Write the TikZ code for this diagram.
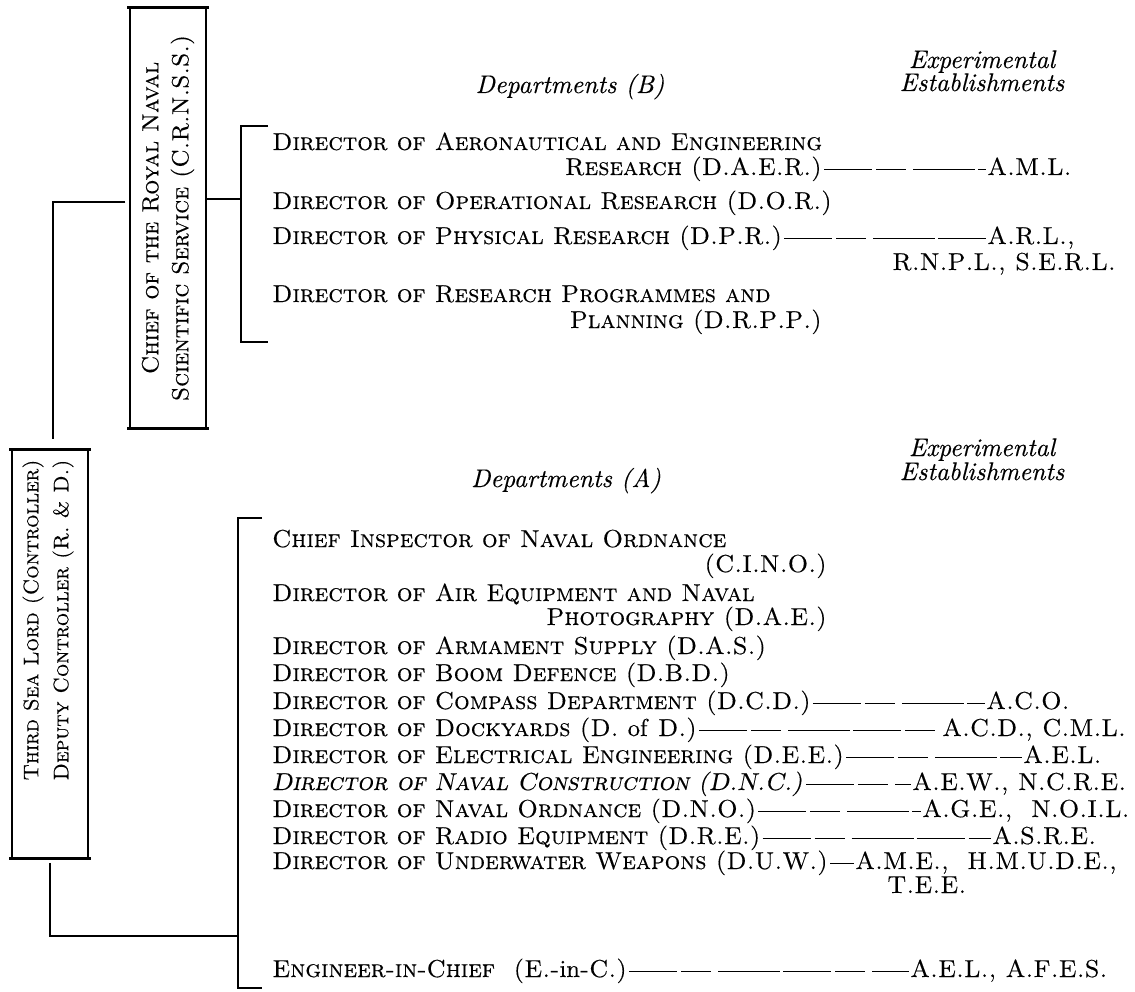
\documentclass[tikz,border=0pt]{standalone}
\usepackage{fontspec}
\setmainfont{lmroman10-regular.otf}[
  SmallCapsFont=lmromancaps10-regular.otf,
  ItalicFont=lmroman10-italic.otf,
  BoldFont=lmroman10-bold.otf,
  FakeBold=0.35]
\usetikzlibrary{calc}
\newcommand\deptfont{\fontsize{24.5}{28}\selectfont\scshape}
\newcommand\hdfont{\fontsize{25.5}{24}\selectfont\itshape}
\newcommand\crnssfont{\fontsize{23.5}{30}\selectfont\scshape}
\newcommand\tslfont{\fontsize{21}{30}\selectfont\scshape}
\begin{document}
\begin{tikzpicture}[x=1pt,y=-1pt,
  sc/.style={font=\deptfont, inner sep=0pt, text height=12pt, text depth=0pt},
  hd/.style={font=\hdfont, inner sep=0pt},
  box/.style={draw, line width=1.5pt, inner sep=0pt},
  edge/.style={line width=2.6pt},
  link/.style={line width=1.5pt},
  leader/.style={line width=0.9pt, shorten <=2pt, shorten >=1pt,
    dash pattern=on 48pt off 4pt on 30pt off 7pt on 62pt off 3pt}]
\useasboundingbox (0,0) rectangle (1135,992);

% ---- boxes on the left
\node[box, minimum width=76pt, minimum height=420pt] (crnss) at (168,218) {};
\draw[edge] ([xshift=-2pt]crnss.north west) -- ([xshift=2pt]crnss.north east);
\draw[edge] ([xshift=-2pt]crnss.south west) -- ([xshift=2pt]crnss.south east);
\node[font=\crnssfont, rotate=90, align=center, inner sep=0pt] (crnsst) at (crnss.center) {Chief of the Royal Naval\\Scientific Service (C.R.N.S.S.)};
\node[box, minimum width=76pt, minimum height=408pt] (tsl) at (50,654) {};
\draw[edge] ([xshift=-2pt]tsl.north west) -- ([xshift=2pt]tsl.north east);
\draw[edge] ([xshift=-2pt]tsl.south west) -- ([xshift=2pt]tsl.south east);
\node[font=\tslfont, rotate=90, align=center, inner sep=0pt] (tslt) at (48,620) {Third Sea Lord (Controller)\\Deputy Controller (R. \& D.)};

% ---- headings
\node[hd, anchor=base] (expB1) at (982,68) {Experimental};
\node[hd, anchor=base] (expB2) at (982,91) {Establishments};
\node[hd, anchor=base] (depB) at (570,93) {Departments (B)};
\node[hd, anchor=base] (expA1) at (982,456) {Experimental};
\node[hd, anchor=base] (expA2) at (982,480) {Establishments};
\node[hd, anchor=base] (depA) at (566,487) {Departments (A)};

% ---- departments (B)
\node[sc, anchor=base west] (daer1) at (272,150) {Director of Aeronautical and Engineering};
\node[sc, anchor=base east] (daer) at (822,175) {Research (D.A.E.R.)};
\node[sc, anchor=base west] (aml) at (987,175) {A.M.L.};
\node[sc, anchor=base west] (dor) at (272,209) {Director of Operational Research (D.O.R.)};
\node[sc, anchor=base west] (dpr) at (272,244) {Director of Physical Research (D.P.R.)};
\node[sc, anchor=base west] (arl) at (987,244) {A.R.L.,};
\node[sc, anchor=base east] (rnpl) at (1116,270) {R.N.P.L., S.E.R.L.};
\node[sc, anchor=base west] (drpp1) at (272,302) {Director of Research Programmes and};
\node[sc, anchor=base east] (drpp) at (822,328) {Planning (D.R.P.P.)};

% ---- departments (A)
\node[sc, anchor=base west] (cino1) at (272,547) {Chief Inspector of Naval Ordnance};
\node[sc, anchor=base east] (cino) at (827,572) {(C.I.N.O.)};
\node[sc, anchor=base west] (dae1) at (272,601) {Director of Air Equipment and Naval};
\node[sc, anchor=base east] (dae) at (827,625) {Photography (D.A.E.)};
\node[sc, anchor=base west] (das) at (272,654) {Director of Armament Supply (D.A.S.)};
\node[sc, anchor=base west] (dbd) at (272,681) {Director of Boom Defence (D.B.D.)};
\node[sc, anchor=base west] (dcd) at (272,709) {Director of Compass Department (D.C.D.)};
\node[sc, anchor=base west] (aco) at (986,709) {A.C.O.};
\node[sc, anchor=base west] (dod) at (272,736) {Director of Dockyards (D. \textup{of} D.)};
\node[sc, anchor=base west] (acd) at (942,736) {A.C.D., C.M.L.};
\node[sc, anchor=base west] (dee) at (272,763) {Director of Electrical Engineering (D.E.E.)};
\node[sc, anchor=base west] (ael) at (1023,763) {A.E.L.};
\begin{scope}[shift={(272,790)}, xslant=0.2]
\node[sc, anchor=base west, transform shape] (dnc) at (0,0) {Director of Naval Construction (D.N.C.)};
\end{scope}
\node[sc, anchor=base west] (aew) at (912,790) {A.E.W., N.C.R.E.};
\node[sc, anchor=base west] (dno) at (272,817) {Director of Naval Ordnance (D.N.O.)};
\node[sc, anchor=base west] (age) at (922,817) {A.G.E.,\ \ N.O.I.L.};
\node[sc, anchor=base west] (dre) at (272,844) {Director of Radio Equipment (D.R.E.)};
\node[sc, anchor=base west] (asre) at (992,844) {A.S.R.E.};
\node[sc, anchor=base west] (duw) at (272,869) {Director of Underwater Weapons (D.U.W.)};
\node[sc, anchor=base west] (ame) at (855,869) {A.M.E.,\ \ H.M.U.D.E.,};
\node[sc, anchor=base west] (tee) at (887,893) {T.E.E.};
\node[sc, anchor=base west] (einc) at (272,977) {Engineer-in-Chief\ \ (E.-\textup{in}-C.)};
\node[sc, anchor=base west] (afes) at (910,977) {A.E.L., A.F.E.S.};

% ---- brackets
\coordinate (bBt) at (241,126);
\coordinate (bBb) at (241,342);
\draw[link] ($(bBt)+(27,0)$) -- (bBt) -- (bBb) -- ($(bBb)+(27,0)$);
\coordinate (bAt) at (238,518);
\coordinate (bAb) at (238,988);
\draw[link] ($(bAt)+(24,0)$) -- (bAt) -- (bAb) -- ($(bAb)+(24,0)$);

% ---- connectors
\coordinate (j1) at (53,202);
\draw[link, shorten <=4pt, shorten >=10pt] (crnss.west |- j1) -- (j1) -- (j1 |- tsl.north);
\coordinate (j0) at (0,199);
\draw[link] (crnss.east |- j0) -- (bBt |- j0);
\coordinate (j2) at (50,936);
\draw[link, shorten <=4pt] (tsl.south -| j2) -- (j2) -- (j2 -| bAt);

% ---- leaders
\draw[leader] (daer.east) -- (aml.west);
\draw[leader] (dpr.east) -- (arl.west);
\draw[leader] (dcd.east) -- (aco.west);
\draw[leader] (dod.east) -- (acd.west);
\draw[leader] (dee.east) -- (ael.west);
\draw[leader] (dnc.east) -- (aew.west);
\draw[leader] (dno.east) -- (age.west);
\draw[leader] (dre.east) -- (asre.west);
\draw[leader] (duw.east) -- (ame.west);
\draw[leader] (einc.east) -- (afes.west);
\end{tikzpicture}
\end{document}
